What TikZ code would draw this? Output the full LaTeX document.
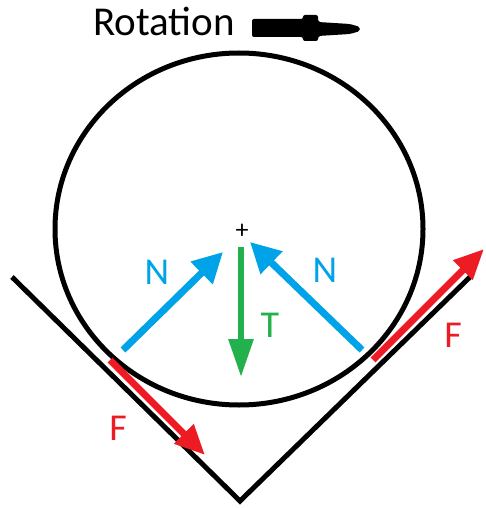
\documentclass[tikz,border=0pt]{standalone}
\usepackage{fontspec}
\setmainfont{Carlito}
\usetikzlibrary{arrows.meta}
\definecolor{pblue}{RGB}{0,162,232}
\definecolor{pgreen}{RGB}{34,177,76}
\definecolor{pred}{RGB}{237,28,36}
\begin{document}
\begin{tikzpicture}[x=1pt,y=-1pt,
  lbl/.style={inner sep=0pt, font=\fontsize{38}{40}\selectfont},
  narrow/.style={pblue, line width=7pt, -{Triangle[length=30pt,width=30pt]}},
  farrow/.style={pred, line width=7pt, -{Triangle[length=30pt,width=26pt]}},
  tarrow/.style={pgreen, line width=6pt, -{Triangle[length=38pt,width=24pt]}},
  blackline/.style={black, line width=5pt}]
\useasboundingbox (0,0) rectangle (486,508);
% title
\node[inner sep=0pt, font=\fontsize{41}{44}\selectfont, anchor=base west] (rot) at (93,36) {Rotation};
\fill[black, rounded corners=2pt] (252,19) -- (303,19) -- (303,15) -- (318,15) -- (318,22) -- (350,24) -- (360,27) -- (360,31) -- (350,34) -- (318,36) -- (318,41) -- (303,41) -- (303,37) -- (252,37) -- cycle;
% wheel
\draw[blackline] (239,229) ellipse [x radius=184, y radius=176];
\node[inner sep=0pt, font=\fontsize{26}{26}\selectfont] (c) at (242,231) {+};
% V groove
\coordinate (vl) at (12,277);
\coordinate (vb) at (240,501);
\coordinate (vr) at (470,277);
\draw[blackline, line join=miter] (vl) -- (vb) -- (vr);
% forces
\coordinate (n1s) at (123,350); \coordinate (n1e) at (223,252);
\coordinate (n2s) at (362,350); \coordinate (n2e) at (250,242);
\coordinate (ts) at (241,247); \coordinate (te) at (241,377);
\coordinate (f1s) at (110,360); \coordinate (f1e) at (205,455);
\coordinate (f2s) at (373,360); \coordinate (f2e) at (484,249);
\draw[narrow] (n1s) -- (n1e);
\draw[narrow] (n2s) -- (n2e);
\draw[tarrow] (ts) -- (te);
\draw[farrow] (f1s) -- (f1e);
\draw[farrow] (f2s) -- (f2e);
% labels
\node[lbl, text=pblue] (nl) at (157,272) {N};
\node[lbl, text=pblue] (nr) at (325,270) {N};
\node[lbl, text=pgreen] (tl) at (270,325) {T};
\node[lbl, text=pred] (fl) at (118,428) {F};
\node[lbl, text=pred] (fr) at (453,335) {F};
\end{tikzpicture}
\end{document}
